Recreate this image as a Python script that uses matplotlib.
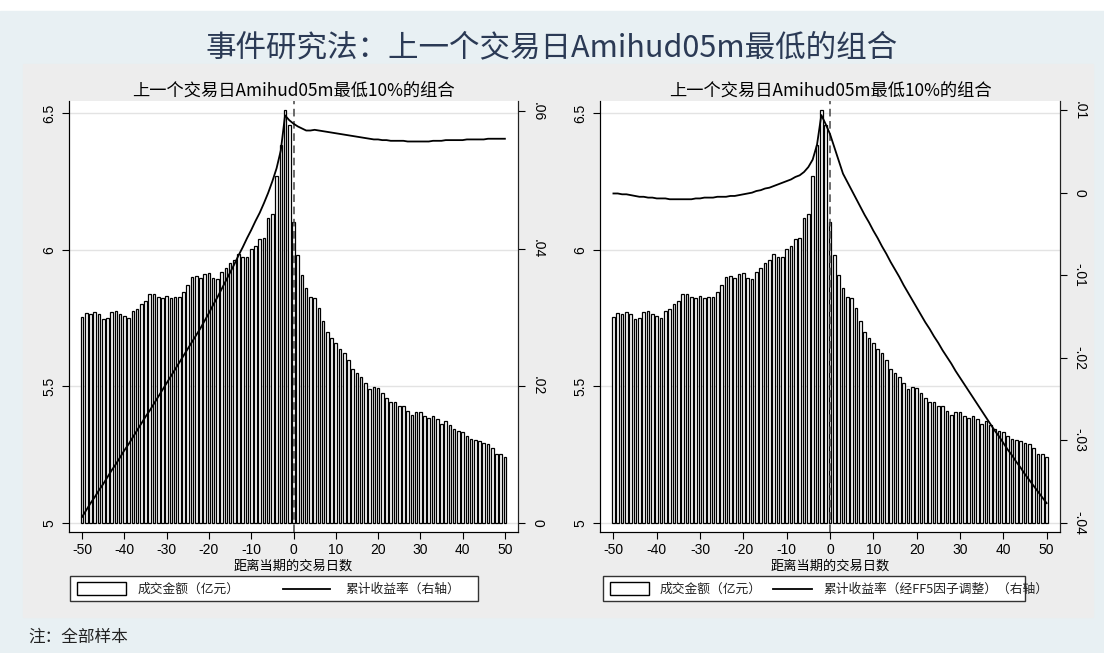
import matplotlib.pyplot as plt
from matplotlib.patches import Rectangle
from matplotlib.lines import Line2D

plt.rcParams['font.family'] = ['Liberation Sans', 'Noto Sans CJK SC']
plt.rcParams['axes.unicode_minus'] = False

W, H = 1104, 653

days = list(range(-50, 51))

# 成交金额（亿元）
turnover = [
    5.755, 5.770, 5.765, 5.771, 5.764, 5.748, 5.749, 5.771, 5.776, 5.764,
    5.759, 5.751, 5.777, 5.784, 5.800, 5.812, 5.839, 5.838, 5.826, 5.824,
    5.829, 5.825, 5.828, 5.827, 5.846, 5.870, 5.899, 5.904, 5.895, 5.912,
    5.913, 5.898, 5.892, 5.918, 5.932, 5.953, 5.961, 5.983, 5.973, 5.973,
    6.001, 6.013, 6.038, 6.044, 6.115, 6.129, 6.270, 6.383, 6.511, 6.456,
    6.103,
    5.981, 5.906, 5.859, 5.828, 5.822, 5.785, 5.739, 5.700, 5.678, 5.660,
    5.637, 5.623, 5.596, 5.562, 5.550, 5.535, 5.513, 5.490, 5.496, 5.494,
    5.476, 5.456, 5.444, 5.441, 5.428, 5.428, 5.411, 5.395, 5.405, 5.406,
    5.391, 5.385, 5.392, 5.380, 5.363, 5.372, 5.359, 5.343, 5.337, 5.332,
    5.318, 5.308, 5.305, 5.300, 5.292, 5.288, 5.276, 5.252, 5.251, 5.241,
]

# 累计收益率
cum_ret = [
    0.0009, 0.0019, 0.0029, 0.0038, 0.0048, 0.0057, 0.0067, 0.0077, 0.0086, 0.0096,
    0.0106, 0.0115, 0.0125, 0.0135, 0.0145, 0.0155, 0.0164, 0.0174, 0.0184, 0.0194,
    0.0204, 0.0214, 0.0224, 0.0234, 0.0244, 0.0254, 0.0264, 0.0274, 0.0284, 0.0295,
    0.0306, 0.0318, 0.0329, 0.0341, 0.0353, 0.0365, 0.0377, 0.0390, 0.0402, 0.0415,
    0.0427, 0.0440, 0.0452, 0.0466, 0.0481, 0.0498, 0.0517, 0.0543, 0.0594, 0.0587,
    0.0582,
    0.0578, 0.0575, 0.0572, 0.0572, 0.0573, 0.0572, 0.0571, 0.0570, 0.0569, 0.0568,
    0.0567, 0.0566, 0.0565, 0.0564, 0.0563, 0.0562, 0.0561, 0.0560, 0.0559, 0.0559,
    0.0558, 0.0558, 0.0557, 0.0557, 0.0557, 0.0557, 0.0556, 0.0556, 0.0556, 0.0556,
    0.0556, 0.0556, 0.0557, 0.0557, 0.0557, 0.0558, 0.0558, 0.0558, 0.0558, 0.0558,
    0.0559, 0.0559, 0.0559, 0.0559, 0.0559, 0.0560, 0.0560, 0.0560, 0.0560, 0.0560,
]

# 累计收益率（经FF5因子调整）
cum_ret_ff5 = [
    -0.0001, -0.0001, -0.0002, -0.0002, -0.0003, -0.0004, -0.0005, -0.0005, -0.0006, -0.0006,
    -0.0007, -0.0007, -0.0007, -0.0008, -0.0008, -0.0008, -0.0008, -0.0008, -0.0008, -0.0007,
    -0.0007, -0.0006, -0.0006, -0.0006, -0.0005, -0.0005, -0.0005, -0.0004, -0.0004, -0.0003,
    -0.0002, -0.0001, 0.0000, 0.0002, 0.0003, 0.0005, 0.0006, 0.0008, 0.0010, 0.0012,
    0.0014, 0.0016, 0.0019, 0.0021, 0.0025, 0.0031, 0.0040, 0.0058, 0.0094, 0.0083,
    0.0071,
    0.0055, 0.0039, 0.0023, 0.0013, 0.0003, -0.0007, -0.0017, -0.0027, -0.0036, -0.0046,
    -0.0055, -0.0065, -0.0074, -0.0084, -0.0093, -0.0102, -0.0112, -0.0121, -0.0130, -0.0139,
    -0.0148, -0.0157, -0.0165, -0.0174, -0.0182, -0.0191, -0.0199, -0.0207, -0.0216, -0.0224,
    -0.0232, -0.0240, -0.0248, -0.0256, -0.0264, -0.0272, -0.0280, -0.0288, -0.0295, -0.0303,
    -0.0311, -0.0318, -0.0326, -0.0333, -0.0341, -0.0348, -0.0355, -0.0362, -0.0369, -0.0376,
]

left_ticks = [5, 5.5, 6, 6.5]
left_labels = ['5', '5.5', '6', '6.5']
ret_ticks = [0, 0.02, 0.04, 0.06]
ret_labels = ['0', '.02', '.04', '.06']
ff5_ticks = [-0.04, -0.03, -0.02, -0.01, 0, 0.01]
ff5_labels = ['-.04', '-.03', '-.02', '-.01', '0', '.01']
x_ticks = list(range(-50, 51, 10))

main_title = '事件研究法：上一个交易日Amihud05m最低的组合'
sub_title = '上一个交易日Amihud05m最低10%的组合'
x_title = '距离当期的交易日数'
bar_name = '成交金额（亿元）'
line_names = ['累计收益率（右轴）', '累计收益率（经FF5因子调整）（右轴）']
note = '注：全部样本'

CJK = ['Noto Sans CJK SC', 'DejaVu Sans']


def fx(x):
    return x / W


def fy(y):
    return 1 - y / H


fig = plt.figure(figsize=(W / 100, H / 100), dpi=100)
fig.patches.append(Rectangle((0, 0), 1, fy(11), transform=fig.transFigure,
                             color='#E8F0F3', zorder=-3))
fig.patches.append(Rectangle((fx(23), fy(617)), fx(1093 - 23), (617 - 64) / H,
                             transform=fig.transFigure, color='#EDEDED', zorder=-2))

fig.text(0.5, fy(48), main_title, ha='center', va='center', fontsize=22,
         color='#2B3A55', family=CJK)


def panel(x0, x1, ret, rlim, rticks, rlabels):
    ax = fig.add_axes([fx(x0), fy(532), fx(x1 - x0), (532 - 101) / H])
    ax.set_facecolor('white')
    base = 5
    ax.bar(days, [v - base for v in turnover], bottom=base, width=0.62,
           color='white', edgecolor='black', linewidth=0.9, zorder=2)
    ax.axvline(0, color='#444444', linestyle=(0, (5, 3)), linewidth=1.1, zorder=3)
    ax.set_xlim(-53.1, 53.1)
    ax.set_ylim(4.967, 6.544)
    ax.set_yticks(left_ticks)
    ax.set_yticklabels(left_labels, rotation=90, va='center', fontsize=10)
    ax.set_xticks(x_ticks)
    ax.tick_params(axis='x', labelsize=10, length=5, pad=3)
    ax.tick_params(axis='y', length=5, pad=4)
    ax.grid(axis='y', color='#E3E3E3', linewidth=1)
    ax.set_axisbelow(True)
    ax.spines['top'].set_visible(False)
    for s in ['left', 'bottom', 'right']:
        ax.spines[s].set_color('#222222')
    ax.set_xlabel(x_title, fontsize=9.5, family=CJK, labelpad=2)
    ax.set_title(sub_title, fontsize=12.4, family=CJK, pad=2)

    ax2 = ax.twinx()
    ax2.plot(days, ret, color='black', linewidth=1.3, zorder=4)
    ax2.set_ylim(*rlim)
    ax2.set_yticks(rticks)
    ax2.set_yticklabels(rlabels, rotation=-90, va='center', fontsize=10)
    ax2.tick_params(axis='y', length=5, pad=4)
    ax2.spines['top'].set_visible(False)
    ax2.spines['right'].set_color('#222222')
    return ax


panel(69, 518, cum_ret, (-0.0013, 0.0615), ret_ticks, ret_labels)
panel(600, 1060, cum_ret_ff5, (-0.0411, 0.0111), ff5_ticks, ff5_labels)


def legend(bx0, bx1, sw0, sw1, t1, l0, l1, t2, label2):
    fig.patches.append(Rectangle((fx(bx0), fy(601)), fx(bx1 - bx0), 25 / H,
                                 transform=fig.transFigure, facecolor='white',
                                 edgecolor='#333333', linewidth=1, zorder=1))
    fig.patches.append(Rectangle((fx(sw0), fy(595)), fx(sw1 - sw0), 13 / H,
                                 transform=fig.transFigure, facecolor='white',
                                 edgecolor='black', linewidth=1, zorder=2))
    fig.lines.append(Line2D([fx(l0), fx(l1)], [fy(589), fy(589)],
                            transform=fig.transFigure, color='black', linewidth=1.3))
    fig.text(fx(t1), fy(589), bar_name, ha='left', va='center', fontsize=9.2,
             family=CJK, color='#222222')
    fig.text(fx(t2), fy(589), label2, ha='left', va='center', fontsize=9.2,
             family=CJK, color='#222222')


legend(70, 478, 77, 126, 138, 283, 330, 345, line_names[0])
legend(603, 1025, 610, 649, 660, 773, 812, 823, line_names[1])

fig.text(fx(28), fy(637), note, ha='left', va='center', fontsize=12,
         family=CJK, color='#222222')

fig.savefig('out.png', dpi=100)
